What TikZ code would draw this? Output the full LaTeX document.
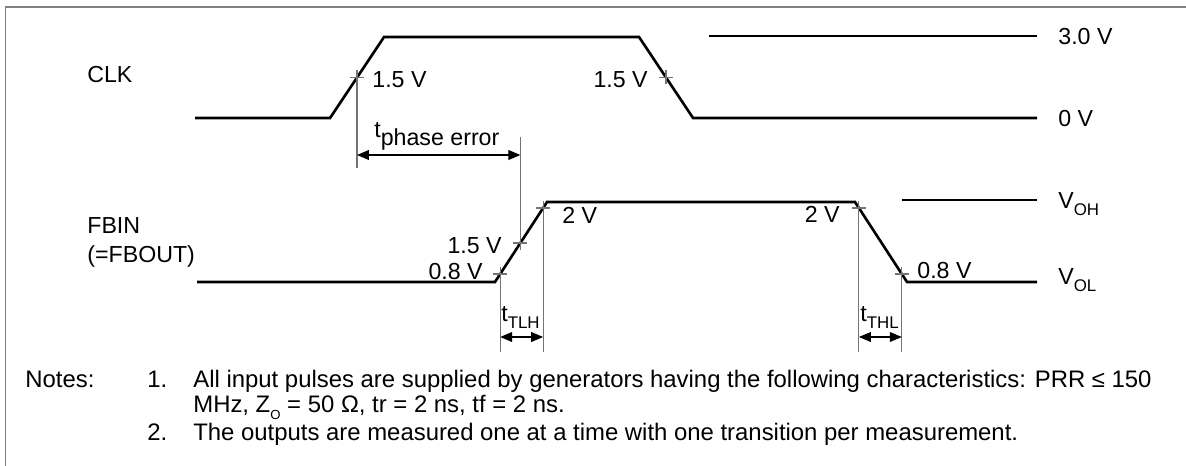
\documentclass[tikz,border=0pt]{standalone}
\usepackage{fontspec}
\setmainfont{Liberation Sans}
\usetikzlibrary{arrows.meta}
\definecolor{markgray}{gray}{0.45}
\definecolor{framegray}{gray}{0.5}
\newcommand{\dsub}[1]{\raisebox{-4.5pt}{\fontsize{9.6}{10}\selectfont #1}}
\tikzset{
  sig/.style={line width=1.5pt,line join=miter},
  level/.style={line width=0.75pt},
  ext/.style={markgray,line width=0.6pt},
  dim/.style={line width=0.6pt,{Triangle[length=6.8pt,width=5.6pt]}-{Triangle[length=6.8pt,width=5.6pt]}},
  lbl/.style={inner sep=0pt,font=\fontsize{13.2}{15}\selectfont},
  note/.style={inner sep=0pt,anchor=base west,font=\fontsize{13.6}{16}\selectfont}
}

\begin{document}
\begin{tikzpicture}[x=0.02cm,y=-0.02cm]
\useasboundingbox (0,0) rectangle (1186,466);
\draw[framegray,line width=1.1pt] (5.5,466) -- (5.5,7) -- (1186,7);

\coordinate (clk0) at (195,118);
\coordinate (clk1) at (330,118);
\coordinate (clk2) at (384,37);
\coordinate (clk3) at (639,37);
\coordinate (clk4) at (693,118);
\coordinate (clk5) at (1037,118);
\coordinate (fb0) at (197,282);
\coordinate (fb1) at (495,282);
\coordinate (fb2) at (547,202);
\coordinate (fb3) at (855,202);
\coordinate (fb4) at (907,282);
\coordinate (fb5) at (1037,282);
\coordinate (hi0) at (709,36);
\coordinate (hi1) at (1037,36);
\coordinate (oh0) at (902,200);
\coordinate (oh1) at (1037,200);

\draw[sig] (clk0) -- (clk1) -- (clk2) -- (clk3) -- (clk4) -- (clk5);
\draw[sig] (fb0) -- (fb1) -- (fb2) -- (fb3) -- (fb4) -- (fb5);
\draw[level] (hi0) -- (hi1);
\draw[level] (oh0) -- (oh1);

\path (clk1) -- (clk2) coordinate[pos=0.5] (mA);
\path (clk3) -- (clk4) coordinate[pos=0.5] (mB);
\path (fb1) -- (fb2) coordinate[pos=0.1] (mC) coordinate[pos=0.4875] (mD) coordinate[pos=0.925] (mE);
\path (fb3) -- (fb4) coordinate[pos=0.075] (mF) coordinate[pos=0.9] (mG);

\foreach \m in {mA,mB,mC,mD,mE,mF,mG}
  \draw[ext] (\m) ++(-7,0) -- ++(14,0) (\m) ++(0,-7) -- ++(0,14);

\draw[ext] (mA) -- (mA |- 0,168);
\draw[ext] (mD) -- (mD |- 0,137);
\draw[dim] (mA |- 0,155) -- (mD |- 0,155);
\draw[ext] (mC) -- (mC |- 0,352);
\draw[ext] (mE) -- (mE |- 0,352);
\draw[dim] (mC |- 0,337) -- (mE |- 0,337);
\draw[ext] (mF) -- (mF |- 0,352);
\draw[ext] (mG) -- (mG |- 0,352);
\draw[dim] (mF |- 0,337) -- (mG |- 0,337);

\node[lbl,anchor=base west] (clkname) at (87,83) {CLK};
\node[lbl,anchor=base west] (fbname) at (87,233) {FBIN};
\node[lbl,anchor=base west] (fbout) at (87,262) {(=FBOUT)};
\node[lbl,anchor=base west] (v30) at (1058,45) {3.0 V};
\node[lbl,anchor=base west] (v0) at (1058,127) {0 V};
\node[lbl,anchor=base west] (voh) at (1058,208) {V\dsub{OH}};
\node[lbl,anchor=base west] (vol) at (1058,284) {V\dsub{OL}};
\node[lbl,anchor=base west] (riseA) at (372,88) {1.5 V};
\node[lbl,anchor=base east] (fallA) at (648,88) {1.5 V};
\node[lbl,anchor=base west] (tphase) at (374,145) {\raisebox{4.5pt}{t}phase error};
\node[lbl,anchor=base east] (lo08a) at (483,279) {0.8 V};
\node[lbl,anchor=base east] (mid15) at (502,253) {1.5 V};
\node[lbl,anchor=base west] (hi2a) at (562,223) {2 V};
\node[lbl,anchor=base east] (hi2b) at (840,222) {2 V};
\node[lbl,anchor=base west] (lo08b) at (917,278) {0.8 V};
\node[lbl,anchor=base west] (ttlh) at (501,321) {t\dsub{TLH}};
\node[lbl,anchor=base west] (tthl) at (860,321) {t\dsub{THL}};

\node[note] (notes) at (25,387) {Notes:};
\node[note] (n1) at (147,387) {1.};
\node[note] (n1a) at (193,387) {All input pulses are supplied by generators having the following characteristics: PRR ≤ 150};
\node[note] (n1b) at (193,412) {MHz, Z\raisebox{-4.5pt}{\fontsize{7.5}{8}\selectfont O} = 50 Ω, tr = 2 ns, tf = 2 ns.};
\node[note] (n2) at (147,440) {2.};
\node[note] (n2a) at (193,440) {The outputs are measured one at a time with one transition per measurement.};
\end{tikzpicture}
\end{document}
